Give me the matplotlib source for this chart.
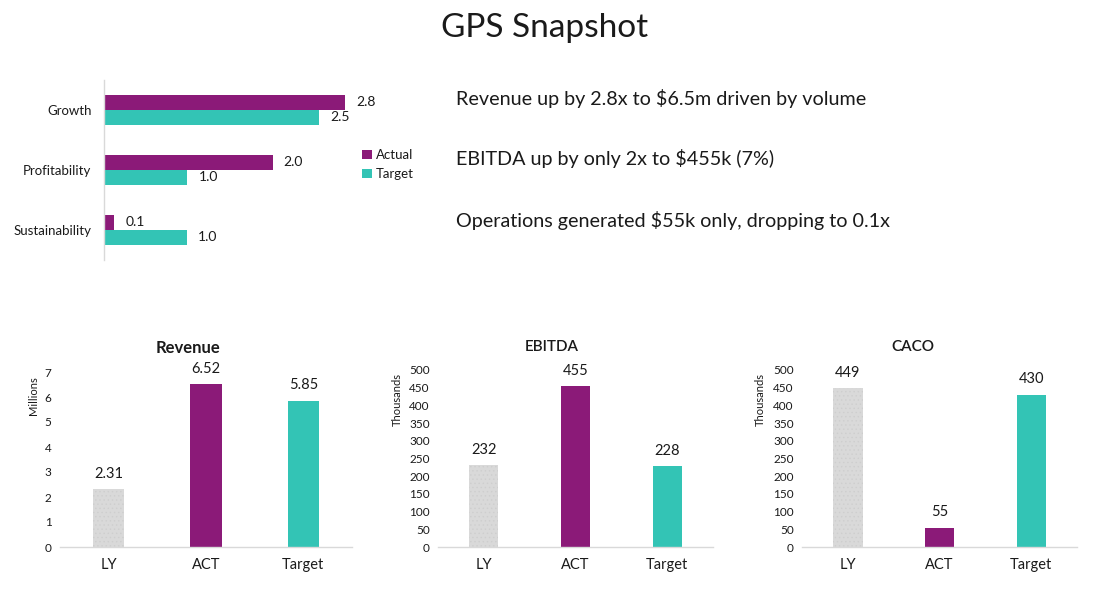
import matplotlib
matplotlib.use("Agg")
import matplotlib.pyplot as plt

plt.rcParams['font.family'] = ['Lato', 'DejaVu Sans']
plt.rcParams['hatch.linewidth'] = 0.5

# ---- data ----
gps_categories = ["Growth", "Profitability", "Sustainability"]
gps_actual = [2.8, 1.96, 0.12]
gps_target = [2.5, 0.97, 0.96]
gps_series = ["Actual", "Target"]

comments = [
    "Revenue up by 2.8x to $6.5m driven by volume",
    "EBITDA up by only 2x to $455k (7%)",
    "Operations generated $55k only, dropping to 0.1x",
]

bar_categories = ["LY", "ACT", "Target"]
revenue_vals = [2.31, 6.52, 5.85]
ebitda_vals = [232, 455, 228]
caco_vals = [449, 55, 430]

PURPLE = "#8b1a78"
TEAL = "#33c4b5"
GRAY = "#d9d9d9"
AXIS = "#d9d9d9"
TXT = "#1a1a1a"

W, H = 1107, 609
fig = plt.figure(figsize=(W / 100, H / 100), dpi=100)
fig.patch.set_facecolor("white")


def px_axes(left, top, right, bottom):
    return fig.add_axes([left / W, 1 - bottom / H, (right - left) / W, (bottom - top) / H])


# ---- title ----
fig.text(545 / W, 1 - 28 / H, "GPS Snapshot", ha="center", va="center", fontsize=24, color=TXT)

# ---- top horizontal bar chart ----
ax = px_axes(104, 80, 104 + 86 * 3.2, 260)
n = len(gps_categories)
ys = list(range(n))
h = 0.25
ax.barh([y - h / 2 for y in ys], gps_actual, height=h, color=PURPLE, label=gps_series[0])
ax.barh([y + h / 2 for y in ys], gps_target, height=h, color=TEAL, label=gps_series[1])
for y, a, t in zip(ys, gps_actual, gps_target):
    ax.annotate(f"{a:.1f}", (a, y - h / 2), xytext=(8, 0), textcoords="offset points",
                va="center", ha="left", fontsize=10, color=TXT)
    ax.annotate(f"{t:.1f}", (t, y + h / 2), xytext=(8, 0), textcoords="offset points",
                va="center", ha="left", fontsize=10, color=TXT)
ax.set_ylim(n - 0.5, -0.5)
ax.set_xlim(0, 3.2)
ax.set_yticks(ys)
ax.set_yticklabels(gps_categories, fontsize=9.5, color=TXT)
ax.tick_params(axis="y", length=0, pad=9)
ax.set_xticks([])
for s in ["top", "right", "bottom"]:
    ax.spines[s].set_visible(False)
ax.spines["left"].set_color(AXIS)
ax.spines["left"].set_linewidth(1)
leg = ax.legend(loc="center left", bbox_to_anchor=((357 - 104) / (86 * 3.2), 0.53), frameon=False,
                fontsize=9.5, handlelength=0.7, handleheight=0.7, handletextpad=0.3,
                labelspacing=0.55, borderaxespad=0)
for t in leg.get_texts():
    t.set_color(TXT)

# ---- commentary ----
for ypx, c in zip([99, 159, 221], comments):
    fig.text(456 / W, 1 - ypx / H, c, ha="left", va="center", fontsize=14.2, color=TXT)


# ---- bottom bar charts ----
def bar_panel(box, vals, ylim, yticks, fmt, title, title_xy, ylabel, ylabel_xy, bold):
    ax = px_axes(*box)
    xs = list(range(len(bar_categories)))
    colors = [GRAY, PURPLE, TEAL]
    bars = ax.bar(xs, vals, width=0.32, color=colors, linewidth=0)
    bars[0].set_hatch("....")
    bars[0].set_edgecolor("#cecece")
    for x, v in zip(xs, vals):
        ax.annotate(fmt(v), (x, v), xytext=(0, 6), textcoords="offset points",
                    ha="center", va="bottom", fontsize=10.5, color=TXT)
    ax.set_xlim(-0.5, len(xs) - 0.5)
    ax.set_ylim(*ylim)
    ax.set_yticks(yticks)
    ax.set_yticklabels([str(t) for t in yticks], fontsize=8.5, color=TXT)
    ax.set_xticks(xs)
    ax.set_xticklabels(bar_categories, fontsize=10.5, color=TXT)
    ax.tick_params(axis="y", length=0, pad=6)
    ax.tick_params(axis="x", length=0, pad=8)
    for s in ["top", "right", "left"]:
        ax.spines[s].set_visible(False)
    ax.spines["bottom"].set_color(AXIS)
    ax.spines["bottom"].set_linewidth(1)
    fig.text(title_xy[0] / W, 1 - title_xy[1] / H, title, ha="center", va="center",
             fontsize=12 if bold else 11, fontweight="bold" if bold else "semibold", color=TXT)
    fig.text(ylabel_xy[0] / W, 1 - ylabel_xy[1] / H, ylabel, ha="center", va="center",
             rotation=90, fontsize=8, color=TXT)
    return ax


bar_panel((60, 372, 352, 547), revenue_vals, (0, 7), list(range(0, 8)), lambda v: f"{v:.2f}",
          "Revenue", (188, 348), "Millions", (33, 396), True)
bar_panel((438, 370, 713, 547), ebitda_vals, (0, 500), list(range(0, 501, 50)), lambda v: f"{v:d}",
          "EBITDA", (552, 347), "Thousands", (397, 400), False)
bar_panel((802, 370, 1077, 547), caco_vals, (0, 500), list(range(0, 501, 50)), lambda v: f"{v:d}",
          "CACO", (913, 347), "Thousands", (760, 400), False)

fig.savefig("out.png", dpi=100, facecolor="white")
